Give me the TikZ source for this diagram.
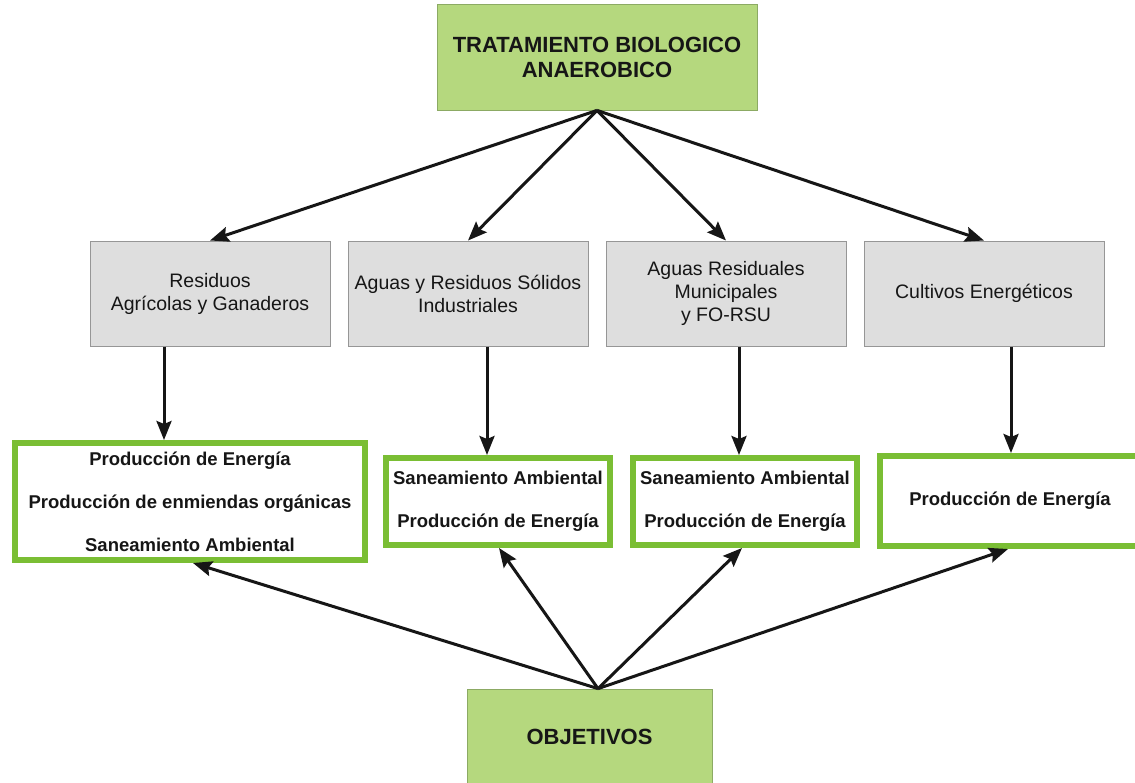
\documentclass[tikz,border=0pt]{standalone}
\usepackage{fontspec}
\setmainfont{Liberation Sans}
\usetikzlibrary{arrows.meta,calc}
\definecolor{leaf}{RGB}{181,216,126}
\definecolor{leafedge}{RGB}{140,170,100}
\definecolor{frame}{RGB}{122,190,52}
\definecolor{stone}{RGB}{222,222,222}
\definecolor{stoneedge}{RGB}{150,150,150}
\definecolor{ink}{RGB}{22,22,22}

\begin{document}
\begin{tikzpicture}[x=1pt,y=-1pt,
  title/.style={draw=leafedge,line width=0.8pt,fill=leaf,inner sep=0pt,align=center,
    font=\bfseries\fontsize{22}{25}\selectfont,text=ink},
  source/.style={draw=stoneedge,line width=1pt,fill=stone,minimum width=240pt,
    minimum height=105pt,inner sep=0pt,align=center,
    font=\fontsize{19.5}{23}\selectfont,text=ink},
  goal/.style={draw=frame,line width=6pt,fill=white,inner sep=0pt,align=center,
    font=\bfseries\fontsize{18.5}{43}\selectfont,text=ink},
  arr/.style={draw=ink,line width=3pt,-{Stealth[length=19pt,width=15pt,inset=3pt]}}]

\useasboundingbox (0,0) rectangle (1135,782);
\fill[white] (0,0) rectangle (1135,782);
\clip (0,0) rectangle (1135,782);

% top and bottom headings
\node[title,minimum width=320pt,minimum height=106pt] (top) at (597,57)
  {TRATAMIENTO BIOLOGICO\\ANAEROBICO};
\node[title,minimum width=245pt,minimum height=96pt] (obj) at (589.5,737) {OBJETIVOS};

% sources
\node[source] (g1) at (210,293.5) {Residuos\\Agrícolas y Ganaderos};
\node[source] (g2) at (468,293.5) {Aguas y Residuos Sólidos\\Industriales};
\node[source] (g3) at (726,293.5) {Aguas Residuales\\Municipales\\y FO-RSU};
\node[source] (g4) at (984,293.5) {Cultivos Energéticos};

% goals
\node[goal,minimum width=350pt,minimum height=117pt] (A) at (190,501.5)
  {Producción de Energía\\Producción de enmiendas orgánicas\\Saneamiento Ambiental};
\node[goal,minimum width=224pt,minimum height=87pt] (B) at (498,501.5)
  {Saneamiento Ambiental\\Producción de Energía};
\node[goal,minimum width=224pt,minimum height=87pt] (C) at (745,501.5)
  {Saneamiento Ambiental\\Producción de Energía};
\node[goal,minimum width=260pt,minimum height=90pt] (D) at (1010,501)
  {\raisebox{2pt}{Producción de Energía}};

% treatment to sources
\foreach \g in {g1,g2,g3,g4}
  \draw[arr] (top.south) -- (\g.north);

% sources to goals
\draw[arr] ([xshift=-46pt]g1.south) -- ([xshift=-46pt]g1.south |- A.north);
\draw[arr] ([xshift=19pt]g2.south) -- ([xshift=19pt]g2.south |- B.north);
\draw[arr] ([xshift=13pt]g3.south) -- ([xshift=13pt]g3.south |- C.north);
\draw[arr] ([xshift=27pt]g4.south) -- ([xshift=27pt]g4.south |- D.north);

% objectives to goals
\coordinate (o) at ([xshift=8.5pt]obj.north);
\draw[arr] (o) -- ([xshift=3pt]A.south);
\draw[arr] (o) -- ([xshift=1pt]B.south);
\draw[arr] (o) -- ([xshift=-3pt]C.south);
\draw[arr] (o) -- ([xshift=-2pt]D.south);
\end{tikzpicture}
\end{document}
